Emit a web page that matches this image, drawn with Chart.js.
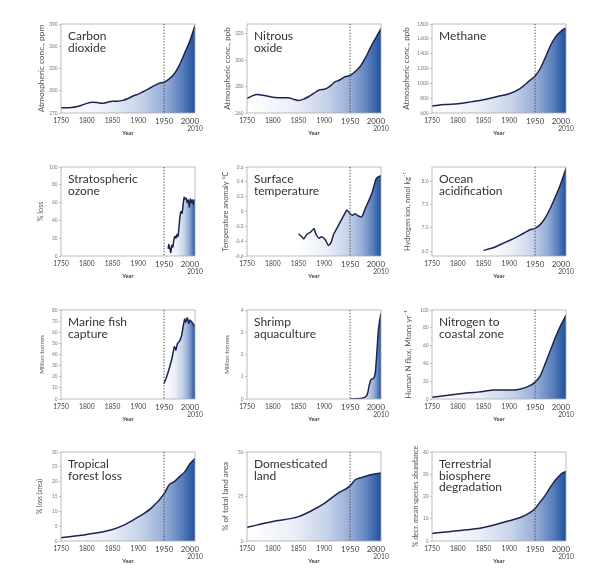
<!DOCTYPE html>
<html><head><meta charset="utf-8">
<script src="https://cdn.jsdelivr.net/npm/chart.js@4.4.1/dist/chart.umd.min.js"></script>
<style>
html,body{margin:0;padding:0;background:#fff;}
#wrap{position:relative;width:590px;height:572px;overflow:hidden;background:#fff;}
#wrap canvas{position:absolute;}
</style></head><body><div id="wrap"></div>
<script>
// ---------- DATA ----------
const xTickYears = [1750, 1800, 1850, 1900, 1950, 2000, 2010];

const co2Years  = [1750,1760,1770,1780,1790,1800,1810,1820,1830,1840,1850,1860,1870,1880,1890,1900,1910,1920,1930,1940,1950,1960,1970,1980,1990,2000,2010];
const co2Values = [277,277,277.5,278.5,280.5,283,284.5,284,283,284.5,286,286,287,289.5,293,295.5,299,302.5,306.5,310,311.5,316,323,335,351,367,388];
const co2Ticks = [270,300,330,360,390];
const co2TickLabels = ['270','300','330','360','390'];

const n2oYears  = [1750,1760,1770,1780,1800,1820,1830,1840,1850,1860,1870,1880,1890,1900,1910,1920,1930,1940,1950,1960,1970,1980,1990,2000,2010];
const n2oValues = [271,273,274,273.5,272,271.5,271.5,270.5,269.5,270.5,272.5,275,277.5,278,280,283.5,285,287.5,288.5,291.5,295.5,302,310,317,324];
const n2oTicks = [260,280,300,320];
const n2oTickLabels = ['260','280','300','320'];

const ch4Years  = [1750,1775,1800,1825,1850,1875,1900,1920,1940,1950,1960,1970,1980,1990,2000,2005,2010];
const ch4Values = [695,715,725,750,780,820,860,925,1040,1100,1200,1350,1510,1630,1700,1730,1745];
const ch4Ticks = [600,800,1000,1200,1400,1600,1800];
const ch4TickLabels = ['600','800','1000','1200','1400','1600','1800'];

const ozoneYears  = [1958,1959,1961,1963,1965,1967,1969,1971,1973,1975,1977,1979,1981,1983,1985,1987,1989,1991,1993,1995,1997,1999,2001,2003,2005,2007,2009,2010];
const ozoneValues = [8,13,9,4,12,10,18,22,20,24,22,33,45,50,48,58,66,64,65,60,63,55,64,60,63,58,63,62];
const ozoneTicks = [0,20,40,60,80,100];
const ozoneTickLabels = ['0','20','40','60','80','100'];

const tempYears  = [1850,1855,1860,1866,1873,1880,1884,1890,1895,1902,1908,1913,1918,1925,1931,1938,1944,1950,1955,1960,1966,1973,1980,1986,1993,2000,2005,2010];
const tempValues = [-0.30,-0.33,-0.37,-0.31,-0.28,-0.23,-0.31,-0.36,-0.34,-0.38,-0.46,-0.42,-0.31,-0.22,-0.14,-0.05,0.02,-0.03,-0.05,-0.03,-0.06,-0.07,0.05,0.14,0.26,0.43,0.47,0.48];
const tempTicks = [-0.6,-0.4,-0.2,0,0.2,0.4,0.6];
const tempTickLabels = ['-0.6','-0.4','-0.2','0','0.2','0.4','0.6'];

const oceanYears  = [1850,1860,1870,1880,1890,1900,1910,1920,1930,1940,1950,1960,1970,1980,1990,2000,2010];
const oceanValues = [6.52,6.55,6.58,6.63,6.68,6.73,6.78,6.84,6.90,6.96,6.99,7.07,7.22,7.43,7.68,7.95,8.27];
const oceanTicks = [6.5,7.0,7.5,8.0];
const oceanTickLabels = ['6.5','7.0','7.5','8.0'];

const fishYears  = [1950,1955,1961,1966,1970,1973,1976,1980,1984,1987,1990,1992,1995,1998,2000,2004,2007,2010];
const fishValues = [14,20,29,38,47,44,50,52,57,65,72,69,73,68,71,69,67,65];
const fishTicks = [0,10,20,30,40,50,60,70,80];
const fishTickLabels = ['0','10','20','30','40','50','60','70','80'];

const shrimpYears  = [1950,1960,1970,1975,1980,1984,1987,1990,1993,1996,1999,2002,2005,2008,2010];
const shrimpValues = [0,0.01,0.02,0.05,0.1,0.25,0.6,0.85,0.9,0.95,1.2,2.1,3.1,3.6,3.85];
const shrimpTicks = [0,1,2,3,4];
const shrimpTickLabels = ['0','1','2','3','4'];

const nitroYears  = [1750,1800,1850,1870,1900,1920,1940,1950,1960,1970,1980,1990,2000,2010];
const nitroValues = [2,5.5,8.5,10,10,11,15,19,26,40,55,70,83,94];
const nitroTicks = [0,20,40,60,80,100];
const nitroTickLabels = ['0','20','40','60','80','100'];

const forestYears  = [1750,1800,1850,1875,1900,1925,1950,1960,1970,1980,1990,2000,2010];
const forestValues = [1.1,2.2,3.9,5.6,8.1,11.1,15.9,19,20,21.7,23.3,26,27.8];
const forestTicks = [0,5,10,15,20,25,30];
const forestTickLabels = ['0','5','10','15','20','25','30'];

const landYears  = [1750,1800,1850,1875,1900,1925,1950,1960,1975,1990,2010];
const landValues = [7.7,10.9,13.7,17,21.2,26.5,31,34.4,35.9,37.2,38.2];
const landTicks = [0,25,50];
const landTickLabels = ['0','25','50'];

const terrYears  = [1750,1800,1850,1900,1925,1940,1950,1960,1970,1980,1990,2000,2010];
const terrValues = [3.4,4.6,6.1,9.1,10.9,12.7,14.6,17.6,20.6,24.3,27.5,30,31.3];
const terrTicks = [0,10,20,30,40];
const terrTickLabels = ['0','10','20','30','40'];

// ---------- PANELS ----------
const panels = [
  {title:['Carbon','dioxide'], yTitle:'Atmospheric conc., ppm', years:co2Years, values:co2Values, yMin:270, yMax:390, yTicks:co2Ticks, yLabels:co2TickLabels, col:0, row:0, smooth:true, ts:8.3, toff:20},
  {title:['Nitrous','oxide'], yTitle:'Atmospheric conc., ppb', years:n2oYears, values:n2oValues, yMin:260, yMax:327.5, yTicks:n2oTicks, yLabels:n2oTickLabels, col:1, row:0, smooth:true, ts:8, toff:20},
  {title:['Methane'], yTitle:'Atmospheric conc., ppb', years:ch4Years, values:ch4Values, yMin:600, yMax:1800, yTicks:ch4Ticks, yLabels:ch4TickLabels, col:2, row:0, smooth:true, ts:8, toff:26},
  {title:['Stratospheric','ozone'], yTitle:'% loss', years:ozoneYears, values:ozoneValues, yMin:0, yMax:100, yTicks:ozoneTicks, yLabels:ozoneTickLabels, col:0, row:1, smooth:false, ts:7.3, toff:20},
  {title:['Surface','temperature'], yTitle:'Temperature anomaly °C', years:tempYears, values:tempValues, yMin:-0.6, yMax:0.6, yTicks:tempTicks, yLabels:tempTickLabels, col:1, row:1, smooth:false, ts:7.4, toff:21},
  {title:['Ocean','acidification'], yTitle:'Hydrogen ion, nmol kg⁻¹', years:oceanYears, values:oceanValues, yMin:6.4, yMax:8.3, yTicks:oceanTicks, yLabels:oceanTickLabels, col:2, row:1, smooth:true, ts:7.5, toff:24},
  {title:['Marine fish','capture'], yTitle:'Million tonnes', years:fishYears, values:fishValues, yMin:0, yMax:80, yTicks:fishTicks, yLabels:fishTickLabels, col:0, row:2, smooth:false, ts:6.2, toff:19},
  {title:['Shrimp','aquaculture'], yTitle:'Million tonnes', years:shrimpYears, values:shrimpValues, yMin:0, yMax:4, yTicks:shrimpTicks, yLabels:shrimpTickLabels, col:1, row:2, smooth:true, ts:6.2, toff:20},
  {title:['Nitrogen to','coastal zone'], yTitle:'Human N flux, Mtons yr⁻¹', years:nitroYears, values:nitroValues, yMin:0, yMax:100, yTicks:nitroTicks, yLabels:nitroTickLabels, col:2, row:2, smooth:true, ts:7.9, toff:24},
  {title:['Tropical','forest loss'], yTitle:'% loss (area)', years:forestYears, values:forestValues, yMin:0, yMax:30, yTicks:forestTicks, yLabels:forestTickLabels, col:0, row:3, smooth:true, ts:6.6, toff:21},
  {title:['Domesticated','land'], yTitle:'% of total land area', years:landYears, values:landValues, yMin:0, yMax:50, yTicks:landTicks, yLabels:landTickLabels, col:1, row:3, smooth:true, ts:8.2, toff:22},
  {title:['Terrestrial','biosphere','degradation'], yTitle:'% decr. mean species abundance', years:terrYears, values:terrValues, yMin:0, yMax:40, yTicks:terrTicks, yLabels:terrTickLabels, col:2, row:3, smooth:true, ts:7.1, toff:16}
];

// ---------- LAYOUT / STYLE ----------
const FONT = 'Lato, "Open Sans", "DejaVu Sans", sans-serif';
const colLeft = [61, 247, 432];
const rowTop = [24, 167, 310, 452];
const plotW = 134, plotH = 89, T = 6, XH = 24, B = 3;

function gradFill(years) {
  return (ctx) => {
    const ch = ctx.chart, a = ch.chartArea;
    if (!a) return 'rgba(0,0,0,0)';
    const xs = ch.scales.x;
    const x0 = xs.getPixelForValue(years[0]);
    const x1 = xs.getPixelForValue(years[years.length - 1]);
    const g = ch.ctx.createLinearGradient(x0, 0, x1, 0);
    g.addColorStop(0, '#ffffff');
    g.addColorStop(0.35, '#eaeff8');
    g.addColorStop(0.6, '#c5d2e9');
    g.addColorStop(0.78, '#93abd5');
    g.addColorStop(0.9, '#5a80be');
    g.addColorStop(1, '#215199');
    return g;
  };
}

const deco = {
  id: 'deco',
  afterDatasetsDraw(chart, args, opts) {
    const {ctx, chartArea: a} = chart;
    const xs = chart.scales.x;
    ctx.save();
    ctx.strokeStyle = '#aaaaaa';
    ctx.lineWidth = 0.8;
    ctx.strokeRect(a.left, a.top, a.right - a.left, a.bottom - a.top);
    const px = xs.getPixelForValue(1950);
    ctx.strokeStyle = '#4a4a4a';
    ctx.lineWidth = 1;
    ctx.setLineDash([1.3, 1.6]);
    ctx.beginPath();
    ctx.moveTo(px, a.top);
    ctx.lineTo(px, a.bottom);
    ctx.stroke();
    ctx.setLineDash([]);
    ctx.fillStyle = '#333';
    ctx.font = '12px ' + FONT;
    ctx.textBaseline = 'alphabetic';
    ctx.textAlign = 'left';
    (opts.lines || []).forEach((t, i) => ctx.fillText(t, a.left + 7, a.top + 16 + i * 11.7));
    ctx.restore();
  }
};

function xTickFont(c) {
  const v = c.tick ? c.tick.value : null;
  if (v === 1950 || v === 2000) return {family: FONT, size: 7.9, lineHeight: 1.2};
  if (v === 2010) return {family: FONT, size: 6.7, lineHeight: 1.15};
  return {family: FONT, size: 6.7, lineHeight: 1.2};
}

const wrap = document.getElementById('wrap');
panels.forEach((p) => {
  const lh = p.ts * 1.2;
  const W = Math.ceil(p.toff + lh / 2);
  const tpad = W - p.toff - lh / 2;
  const cw = Math.ceil(W + plotW + 14);
  const R = cw - W - plotW;
  const chh = T + plotH + XH + B;
  const cv = document.createElement('canvas');
  cv.width = cw; cv.height = chh;
  cv.style.left = (colLeft[p.col] - W) + 'px';
  cv.style.top = (rowTop[p.row] - T) + 'px';
  cv.style.width = cw + 'px'; cv.style.height = chh + 'px';
  wrap.appendChild(cv);
  new Chart(cv, {
    type: 'line',
    data: {datasets: [{
      data: p.years.map((y, i) => ({x: y, y: p.values[i]})),
      borderColor: '#1d2350', borderWidth: 1.5, pointRadius: 0,
      fill: 'start', backgroundColor: gradFill(p.years),
      tension: p.smooth ? 0.4 : 0.15,
      cubicInterpolationMode: p.smooth ? 'monotone' : 'default'
    }]},
    options: {
      responsive: false, animation: false, devicePixelRatio: 1,
      layout: {padding: {left: 0, top: T, right: R, bottom: B}},
      plugins: {legend: {display: false}, tooltip: {enabled: false}, deco: {lines: p.title}},
      events: [],
      scales: {
        x: {
          type: 'linear', min: 1750, max: 2010,
          afterBuildTicks: s => { s.ticks = xTickYears.map(v => ({value: v})); },
          afterFit: s => { s.height = XH; s.paddingLeft = 0; s.paddingRight = 0; },
          grid: {display: false, drawTicks: false, tickLength: 0}, border: {display: false},
          ticks: {
            autoSkip: false, maxRotation: 0, padding: 4, color: '#444',
            font: xTickFont,
            callback: v => v === 2010 ? ['', '2010'] : String(v)
          },
          title: {display: true, text: 'Year', color: '#444', font: {family: FONT, size: 5.8, weight: 'bold', lineHeight: 1.2}, padding: 0}
        },
        y: {
          min: p.yMin, max: p.yMax,
          afterBuildTicks: s => { s.ticks = p.yTicks.map(v => ({value: v})); },
          afterFit: s => { s.width = W; s.paddingTop = 0; s.paddingBottom = 0; },
          grid: {display: true, drawOnChartArea: false, drawTicks: true, tickLength: 2, color: '#999', lineWidth: 0.6},
          border: {display: false},
          ticks: {
            autoSkip: false, padding: 1.5, color: '#777', font: {family: FONT, size: 4.8},
            callback: v => { const i = p.yTicks.indexOf(v); return i >= 0 ? p.yLabels[i] : ''; }
          },
          title: {display: true, text: p.yTitle, color: '#555', font: {family: FONT, size: p.ts, lineHeight: 1.2}, padding: {top: tpad, bottom: 0}}
        }
      }
    },
    plugins: [deco]
  });
});
</script></body></html>
